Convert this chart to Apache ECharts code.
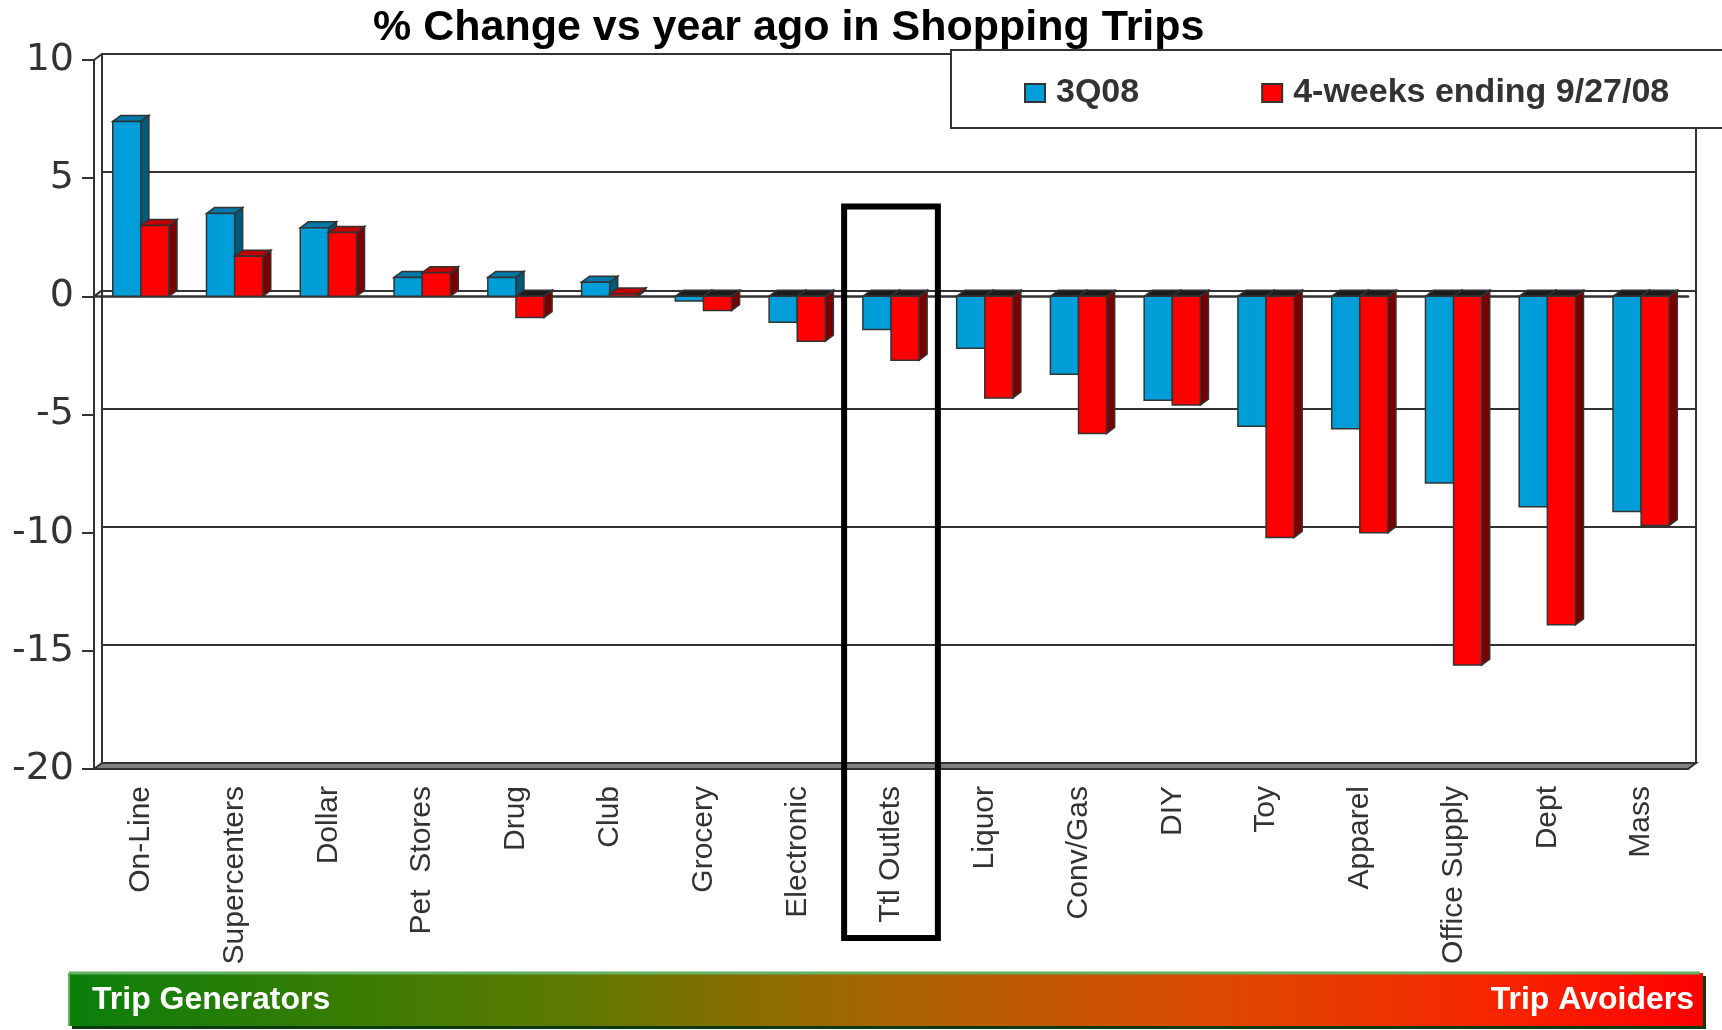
<!DOCTYPE html>
<html>
<head>
<meta charset="utf-8">
<title>% Change vs year ago in Shopping Trips</title>
<script src="https://cdn.jsdelivr.net/npm/echarts@6/dist/echarts.min.js"></script>
<style>
  html, body { margin: 0; padding: 0; background: #fff; }
  #main { width: 1722px; height: 1030px; }
</style>
</head>
<body>
<div id="main"></div>
<script>
// data
var categories = ['On-Line', 'Supercenters', 'Dollar', 'Pet  Stores', 'Drug', 'Club', 'Grocery',
  'Electronic', 'Ttl Outlets', 'Liquor', 'Conv/Gas', 'DIY', 'Toy', 'Apparel', 'Office Supply', 'Dept', 'Mass'];
var q308 = [7.4, 3.5, 2.9, 0.8, 0.8, 0.6, -0.2, -1.1, -1.4, -2.2, -3.3, -4.4, -5.5, -5.6, -7.9, -8.9, -9.1];
var fourWeeks = [3.0, 1.7, 2.7, 1.0, -0.9, 0.1, -0.6, -1.9, -2.7, -4.3, -5.8, -4.6, -10.2, -10.0, -15.6, -13.9, -9.7];
var seriesNames = ['3Q08', '4-weeks ending 9/27/08'];
var yTicks = { min: -20, max: 10, interval: 5 };
var highlightCat = 'Ttl Outlets';

// layout
var G = { left: 94, right: 34, top: 60, bottom: 261 };   // front plane
var DX = 8, DY = 6;                                     // 3d depth offset
var FONT = 'Liberation Sans, Arial, sans-serif';

// face colours: front, side, top, top when negative
var faces = [
  { front: '#009ed8', side: '#005a7d', top: '#0079a8', topNeg: '#1c1c1c' },
  { front: '#ff0000', side: '#7a0000', top: '#c00000', topNeg: '#1c1c1c' }
];

var chartDom = document.getElementById('main');
var myChart = echarts.init(chartDom);

function bar3d(k) {
  return function (params, api) {
    var idx = api.value(0), v = api.value(1);
    var base = api.coord([idx, 0]);
    var tip = api.coord([idx, v]);
    var bw = api.size([1, 0])[0];
    var w = bw * 0.3;
    var x0 = k === 0 ? base[0] - w : base[0];
    var x1 = x0 + w;
    var yHi = Math.min(base[1], tip[1]);
    var yLo = Math.max(base[1], tip[1]);
    var f = faces[k];
    var line = { stroke: '#333', lineWidth: 1.5 };
    return {
      type: 'group',
      children: [
        { type: 'polygon', shape: { points: [[x1, yHi], [x1 + DX, yHi - DY], [x1 + DX, yLo - DY], [x1, yLo]] },
          style: Object.assign({ fill: f.side }, line) },
        { type: 'polygon', shape: { points: [[x0, yHi], [x0 + DX, yHi - DY], [x1 + DX, yHi - DY], [x1, yHi]] },
          style: Object.assign({ fill: v >= 0 ? f.top : f.topNeg }, line) },
        { type: 'rect', shape: { x: x0, y: yHi, width: w, height: yLo - yHi },
          style: Object.assign({ fill: f.front }, line) }
      ]
    };
  };
}

function toData(vals) {
  return vals.map(function (v, i) { return [i, v]; });
}

var W = 1722, H = 1030;
var frontBottom = H - G.bottom, frontRight = W - G.right;

var option = {
  animation: false,
  title: {
    text: '% Change vs year ago in Shopping Trips',
    left: 368, top: 2,
    textStyle: { fontFamily: FONT, fontSize: 43, fontWeight: 'bold', color: '#000' }
  },
  legend: {
    left: 1019, top: 71, z: 10,
    itemWidth: 20, itemHeight: 18, itemGap: 122,
    icon: 'rect',
    itemStyle: { borderColor: '#333', borderWidth: 2 },
    textStyle: { fontFamily: FONT, fontSize: 34, fontWeight: 'bold', color: '#333', padding: [0, 0, 0, 6] },
    data: seriesNames
  },
  grid: [
    { left: G.left, right: G.right, top: G.top, bottom: G.bottom },
    { left: G.left + DX, right: G.right - DX, top: G.top - DY, bottom: G.bottom + DY,
      show: true, borderColor: '#333', borderWidth: 2, backgroundColor: 'transparent' }
  ],
  xAxis: [
    {
      type: 'category', gridIndex: 0, data: categories, position: 'bottom',
      axisLine: { onZero: false, lineStyle: { color: '#333', width: 2 } },
      axisTick: { length: 12, lineStyle: { color: '#333', width: 2 } },
      axisLabel: { rotate: 90, margin: 17, interval: 0, fontFamily: FONT, fontSize: 30, color: '#333' }
    },
    {
      type: 'category', gridIndex: 0, data: categories, position: 'top',
      axisLine: { onZero: true, lineStyle: { color: '#333', width: 2.5 } },
      axisTick: { inside: true, length: 12, lineStyle: { color: '#333', width: 2 } },
      axisLabel: { show: false }
    },
    { type: 'category', gridIndex: 1, data: categories, show: false }
  ],
  yAxis: [
    {
      type: 'value', gridIndex: 0, min: yTicks.min, max: yTicks.max, interval: yTicks.interval,
      axisLine: { show: true, lineStyle: { color: '#333', width: 2 } },
      axisTick: { show: true, length: 12, lineStyle: { color: '#333', width: 2 } },
      axisLabel: { margin: 20, fontFamily: 'DejaVu Sans, sans-serif', fontSize: 38, color: '#333' },
      splitLine: { show: false }
    },
    {
      type: 'value', gridIndex: 1, min: yTicks.min, max: yTicks.max, interval: yTicks.interval,
      axisLine: { show: false }, axisTick: { show: false }, axisLabel: { show: false },
      splitLine: { show: true, lineStyle: { color: '#333', width: 2 } }
    }
  ],
  series: [
    {
      name: seriesNames[0], type: 'custom', xAxisIndex: 0, yAxisIndex: 0,
      renderItem: bar3d(0), data: toData(q308), z: 3,
      itemStyle: { color: faces[0].front }, encode: { x: 0, y: 1 }
    },
    {
      name: seriesNames[1], type: 'custom', xAxisIndex: 0, yAxisIndex: 0,
      renderItem: bar3d(1), data: toData(fourWeeks), z: 4,
      itemStyle: { color: faces[1].front }, encode: { x: 0, y: 1 }
    }
  ],
  graphic: []
};

myChart.setOption(option);

// decorations: floor slab, corner joins, legend box, highlight box, gradient band
var hi = categories.indexOf(highlightCat);
var bandW = (frontRight - G.left) / categories.length;
var boxTop = myChart.convertToPixel({ yAxisIndex: 0 }, 3.8);
var boxLeft = G.left + hi * bandW;
var zeroY = myChart.convertToPixel({ yAxisIndex: 0 }, 0);

myChart.setOption({
  graphic: [
    { type: 'polygon', z: 1,
      shape: { points: [[G.left, frontBottom], [frontRight, frontBottom], [frontRight + DX, frontBottom - DY], [G.left + DX, frontBottom - DY]] },
      style: { fill: '#808080', stroke: '#333', lineWidth: 2 } },
    { type: 'line', z: 1, shape: { x1: G.left, y1: G.top, x2: G.left + DX, y2: G.top - DY },
      style: { stroke: '#333', lineWidth: 2 } },
    { type: 'line', z: 1, shape: { x1: G.left, y1: zeroY, x2: G.left + DX, y2: zeroY - DY },
      style: { stroke: '#333', lineWidth: 2 } },
    // legend frame
    { type: 'rect', z: 3, shape: { x: 951, y: 50, width: 800, height: 78 },
      style: { fill: '#fff', stroke: '#333', lineWidth: 2 } },
    // highlight box
    { type: 'rect', z: 20, shape: { x: boxLeft, y: boxTop, width: bandW, height: 938 - boxTop },
      style: { fill: 'transparent', stroke: '#000', lineWidth: 6 } },
    // gradient band
    { type: 'rect', z: 1, shape: { x: 72, y: 976, width: 1634, height: 53 },
      style: { fill: '#0d3a0d' } },
    { type: 'rect', z: 2, shape: { x: 69, y: 973, width: 1634, height: 53 },
      style: {
        fill: new echarts.graphic.LinearGradient(0, 0, 1, 0, [
          { offset: 0, color: '#0a7f0a' },
          { offset: 0.3, color: '#5c7a00' },
          { offset: 0.5, color: '#a86400' },
          { offset: 0.7, color: '#dc4a00' },
          { offset: 0.88, color: '#f82400' },
          { offset: 1, color: '#ff0000' }
        ]),
        stroke: null
      } },
    { type: 'line', z: 3, shape: { x1: 69, y1: 973, x2: 1700, y2: 973 },
      style: { stroke: '#62b262', lineWidth: 3 } },
    { type: 'line', z: 3, shape: { x1: 69, y1: 973, x2: 69, y2: 1026 },
      style: { stroke: '#62b262', lineWidth: 2 } },
    { type: 'text', z: 4, left: 92, top: 984,
      style: { text: 'Trip Generators', fill: '#fff', font: 'bold 32px ' + FONT } },
    { type: 'text', z: 4, right: 28, top: 984,
      style: { text: 'Trip Avoiders', fill: '#fff', font: 'bold 32px ' + FONT } }
  ]
});
</script>
</body>
</html>
